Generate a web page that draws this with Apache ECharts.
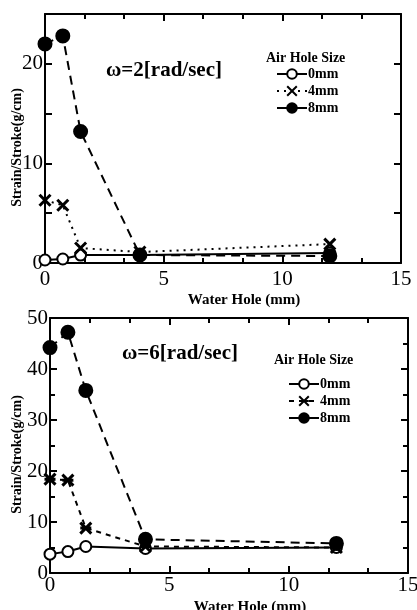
<!DOCTYPE html>
<html>
<head>
<meta charset="utf-8">
<script src="https://cdn.jsdelivr.net/npm/echarts@6/dist/echarts.min.js"></script>
<style>
  html, body { margin: 0; padding: 0; background: #fff; }
  #chart { width: 417px; height: 610px; }
</style>
</head>
<body>
<div id="chart"></div>
<script>
// water hole diameter (mm), shared by all series
const waterHole = [0, 0.75, 1.5, 4, 12];

// omega = 2 rad/sec
const w2_0mm = [0.3, 0.4, 0.8, 0.8, 1.0];
const w2_4mm = [6.3, 5.8, 1.5, 1.1, 1.9];
const w2_8mm = [22.0, 22.8, 13.2, 0.8, 0.7];

// omega = 6 rad/sec
const w6_0mm = [3.7, 4.2, 5.2, 4.8, 5.0];
const w6_4mm = [18.4, 18.2, 8.8, 5.2, 5.0];
const w6_8mm = [44.2, 47.2, 35.8, 6.6, 5.8];

const airHoles = ['0mm', '4mm', '8mm'];
const xTicks = [0, 5, 10, 15];

const serif = 'Liberation Serif';
const crossPath = 'path://M0,0 L10,10 M10,0 L0,10';
const starPath = 'path://M0,0 L10,10 M10,0 L0,10 M0,5 L10,5';

const pairs = (ys) => waterHole.map((x, i) => [x, ys[i]]);

const chart = echarts.init(document.getElementById('chart'));

function mkSeries(name, data, gi, kind, crossSym, dash4) {
  const base = {
    name: name,
    type: 'line',
    xAxisIndex: gi * 2,
    yAxisIndex: gi * 2,
    data: pairs(data),
    symbolSize: 12,
    lineStyle: { color: '#000', width: 2 },
    itemStyle: { color: '#000', borderColor: '#000', borderWidth: 2 },
    z: 3
  };
  if (kind === 0) {
    base.symbol = 'circle';
    base.itemStyle.color = '#fff';
    base.lineStyle.type = 'solid';
    base.symbolSize = 11;
  } else if (kind === 1) {
    base.symbol = crossSym;
    base.symbolSize = 11;
    base.itemStyle = { color: '#000', borderColor: '#000', borderWidth: 3 };
    base.lineStyle.type = dash4;
  } else {
    base.symbol = 'circle';
    base.symbolSize = 13;
    base.lineStyle.type = [9, 6];
  }
  return base;
}

const labelStyle = { fontFamily: serif, fontSize: 21, color: '#000' };
const axisLineStyle = { show: true, onZero: false, lineStyle: { color: '#000', width: 2 } };
const tickStyle = { show: true, inside: true, length: 7, lineStyle: { color: '#000', width: 2 } };

function xAxes(gi) {
  return [
    {
      gridIndex: gi, type: 'value', min: 0, max: 15, interval: 5,
      position: 'bottom',
      name: 'Water Hole (mm)', nameLocation: 'middle',
      nameGap: gi === 0 ? 30 : 27,
      nameMoveOverlap: false,
      nameTextStyle: { fontFamily: serif, fontSize: 15, fontWeight: 'bold', color: '#000', padding: [0, 0, 0, 42] },
      axisLine: axisLineStyle,
      axisTick: tickStyle,
      minorTick: { show: true, splitNumber: 3, length: 5, lineStyle: { color: '#000', width: 2 } },
      axisLabel: Object.assign({ margin: gi === 0 ? 6 : 2, formatter: v => xTicks.includes(v) ? String(v) : '' }, labelStyle),
      splitLine: { show: false }
    },
    {
      gridIndex: gi, type: 'value', min: 0, max: 15, interval: 5,
      position: 'top',
      axisLine: axisLineStyle,
      axisTick: tickStyle,
      minorTick: { show: true, splitNumber: 3, length: 5, lineStyle: { color: '#000', width: 2 } },
      axisLabel: { show: false },
      splitLine: { show: false }
    }
  ];
}

function yAxes(gi, max, interval, minorSplit, labelEvery) {
  const common = {
    gridIndex: gi, type: 'value', min: 0, max: max, interval: interval,
    axisLine: axisLineStyle,
    axisTick: tickStyle,
    minorTick: { show: minorSplit > 1, splitNumber: minorSplit, length: 5, lineStyle: { color: '#000', width: 2 } },
    splitLine: { show: false }
  };
  return [
    Object.assign({}, common, {
      position: 'left',
      name: 'Strain/Stroke(g/cm)', nameLocation: 'middle',
      nameGap: gi === 0 ? 21 : 26,
      nameMoveOverlap: false,
      nameTextStyle: { fontFamily: serif, fontSize: 14, fontWeight: 'bold', color: '#000', padding: [0, 18, 0, 0] },
      axisLabel: Object.assign({ margin: 2, formatter: v => v % labelEvery === 0 ? String(v) : '' }, labelStyle)
    }),
    Object.assign({}, common, {
      position: 'right',
      axisLabel: { show: false }
    })
  ];
}

const upperGi = 0, lowerGi = 1;

const option = {
  animation: false,
  backgroundColor: '#fff',
  textStyle: { fontFamily: serif },
  grid: [
    { left: 45, top: 14, width: 356, height: 249, outerBoundsMode: 'none', containLabel: false },
    { left: 50, top: 318, width: 358, height: 255, outerBoundsMode: 'none', containLabel: false }
  ],
  title: [
    { text: 'ω=2[rad/sec]', left: 101, top: 55, textStyle: { fontFamily: serif, fontSize: 21, fontWeight: 'bold', color: '#000' } },
    { text: 'ω=6[rad/sec]', left: 117, top: 338, textStyle: { fontFamily: serif, fontSize: 21, fontWeight: 'bold', color: '#000' } },
    { text: 'Air Hole Size', left: 261, top: 46, textStyle: { fontFamily: serif, fontSize: 14, fontWeight: 'bold', color: '#000' } },
    { text: 'Air Hole Size', left: 269, top: 348, textStyle: { fontFamily: serif, fontSize: 14, fontWeight: 'bold', color: '#000' } }
  ],
  legend: [
    {
      left: 271, top: 62, orient: 'vertical', itemWidth: 30, itemHeight: 12, itemGap: 3,
      textStyle: { fontFamily: serif, fontSize: 14, fontWeight: 'bold', color: '#000', padding: [0, 0, 0, -4] },
      formatter: n => n.split(' ')[0],
      data: [
        { name: airHoles[0] + ' a', lineStyle: { type: 'solid' } },
        { name: airHoles[1] + ' a', lineStyle: { type: [2, 5] } },
        { name: airHoles[2] + ' a', lineStyle: { type: 'solid' } }
      ]
    },
    {
      left: 283, top: 372, orient: 'vertical', itemWidth: 30, itemHeight: 12, itemGap: 3,
      textStyle: { fontFamily: serif, fontSize: 14, fontWeight: 'bold', color: '#000', padding: [0, 0, 0, -4] },
      formatter: n => n.split(' ')[0],
      data: [
        { name: airHoles[0] + ' b', lineStyle: { type: 'solid' } },
        { name: airHoles[1] + ' b', lineStyle: { type: [5, 5] } },
        { name: airHoles[2] + ' b', lineStyle: { type: 'solid' } }
      ]
    }
  ],
  xAxis: [].concat(xAxes(upperGi), xAxes(lowerGi)),
  yAxis: [].concat(yAxes(upperGi, 25, 5, 0, 10), yAxes(lowerGi, 50, 10, 2, 10)),
  series: [
    mkSeries(airHoles[0] + ' a', w2_0mm, upperGi, 0),
    mkSeries(airHoles[1] + ' a', w2_4mm, upperGi, 1, crossPath, [2, 5]),
    mkSeries(airHoles[2] + ' a', w2_8mm, upperGi, 2),
    mkSeries(airHoles[0] + ' b', w6_0mm, lowerGi, 0),
    mkSeries(airHoles[1] + ' b', w6_4mm, lowerGi, 1, starPath, [5, 5]),
    mkSeries(airHoles[2] + ' b', w6_8mm, lowerGi, 2)
  ]
};

chart.setOption(option);
</script>
</body>
</html>
